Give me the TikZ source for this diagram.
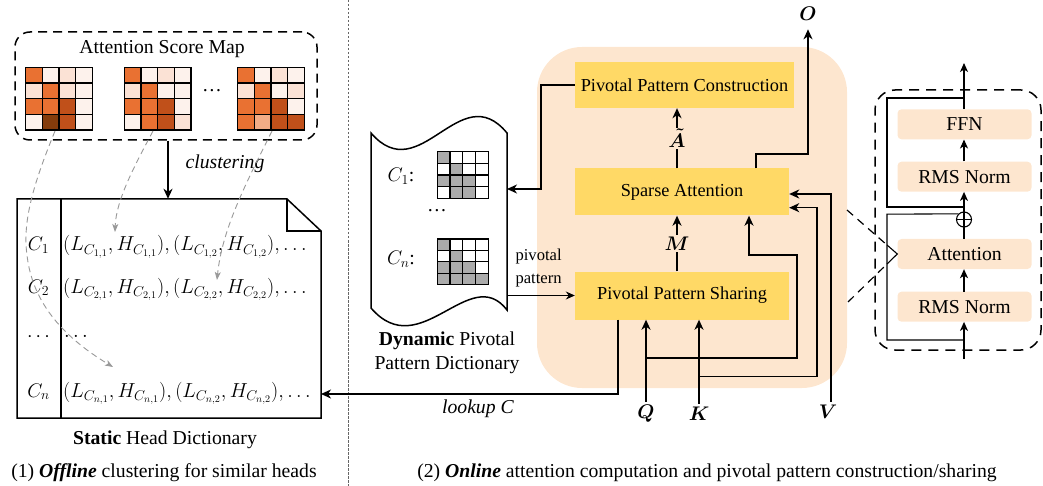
\RequirePackage{fix-cm}
\documentclass[tikz,border=0pt]{standalone}
\usepackage{bm}
\usepackage[no-math]{fontspec}
\setmainfont{Liberation Serif}
\usetikzlibrary{arrows.meta,calc}

\definecolor{peach}{HTML}{FDE6CF}
\definecolor{ygold}{HTML}{FFD966}
\definecolor{hmo}{HTML}{E97132}
\definecolor{hmd}{HTML}{C0501A}
\definecolor{hmv}{HTML}{843C0C}
\definecolor{hml}{HTML}{FBE2D5}
\definecolor{hmw}{HTML}{FDF2EC}
\definecolor{hmm}{HTML}{F2AC86}
\definecolor{gc}{HTML}{ABABAB}

\newcommand{\mainsz}{\fontsize{19.7}{23.5}\selectfont}
\newcommand{\entrysz}{\fontsize{20.3}{24}\selectfont}
\newcommand{\boxsz}{\fontsize{18.3}{22}\selectfont}
\newcommand{\smallsz}{\fontsize{16.6}{22.5}\selectfont}

% 4x4 grid of cells: x0, y0, cell width, cell height, colours row by row
\newcommand{\cellgrid}[5]{%
  \foreach \cc [count=\k from 0] in {#5} {%
    \pgfmathtruncatemacro\cx{mod(\k,4)}%
    \pgfmathtruncatemacro\cy{floor(\k/4)}%
    \filldraw[fill=\cc, draw=black, line width=1.2pt]
      ({#1+\cx*#3},{#2+\cy*#4}) rectangle ++(#3,#4);
  }%
}

\begin{document}
\begin{tikzpicture}[x=1pt,y=-1pt,font=\mainsz,
  conn/.style={line width=1.6pt,-{Stealth[length=10pt,width=9pt,inset=3pt]}},
  thinconn/.style={line width=1pt,-{Stealth[length=9pt,width=8pt,inset=3pt]}},
  tline/.style={line width=1.1pt},
  tconn/.style={line width=1.1pt,-{Stealth[length=9pt,width=8pt,inset=2.5pt]}},
  docline/.style={line width=1.5pt},
  gdash/.style={draw=black!40, line width=0.9pt, dash pattern=on 6pt off 4pt,
    -{Stealth[length=8pt,width=6pt,inset=2pt]}},
  smbox/.style={draw, line width=1.5pt, dash pattern=on 9pt off 6pt, rounded corners=15pt, inner sep=0},
  tdash/.style={draw, line width=1.5pt, dash pattern=on 10pt off 7pt, rounded corners=20pt, inner sep=0},
  zdash/.style={line width=1.2pt, dash pattern=on 8pt off 6pt},
  ybox/.style={fill=ygold, inner sep=0, font=\boxsz},
  rbox/.style={fill=peach, rounded corners=4pt, minimum width=134pt, minimum height=30pt, inner sep=0},
  lbl/.style={fill=peach, inner sep=1.5pt}]
\useasboundingbox (0,0) rectangle (1043,486);

% ---------------- offline part ----------------
\node[smbox, minimum width=302pt, minimum height=108pt] (scoremap) at (166,86) {};
\node (smtitle) at (162,49) {Attention Score Map};
\cellgrid{25.7}{67.3}{16.65}{15.7}{hmo,hmw,hml,hmw, hml,hmo,hml,hmw, hmo,hmo,hmd,hmw, hmw,hmv,hmd,hmw}
\cellgrid{124.3}{67.3}{16.65}{15.7}{hmo,hmw,hml,hmw, hml,hmo,hmw,hmw, hmo,hmo,hmd,hmw, hmw,hmo,hmd,hml}
\cellgrid{237.7}{67.3}{16.65}{15.7}{hmo,hmw,hml,hmw, hml,hmo,hmw,hml, hmo,hmo,hmd,hmw, hmo,hmm,hmd,hmd}
\node (smdots) at (212,91) {\ldots};

% static head dictionary
\node[minimum width=304pt, minimum height=219pt, inner sep=0] (shd) at (169,308.5) {};
\draw[docline, fill=white] (17,199) -- (287,199) -- (321,231) -- (321,418) -- (17,418) -- cycle;
\draw[docline] (287,199) -- (287,231) -- (321,231);
\draw[docline] (61,199) -- (61,418);
\node[anchor=base] (r1) at (38.5,251) {$C_1$};
\node[anchor=base] (r2) at (38.5,293) {$C_2$};
\node (r3) at (38.5,337) {$\cdots$};
\node[anchor=base] (r4) at (38.5,397) {$C_n$};
\begin{scope}[every node/.append style={font=\entrysz, anchor=base west, inner sep=0}]
\node (e1) at (63,251) {$(L_{C_{1,1}}, H_{C_{1,1}}), (L_{C_{1,2}}, H_{C_{1,2}}), \ldots$};
\node (e2) at (63,293) {$(L_{C_{2,1}}, H_{C_{2,1}}), (L_{C_{2,2}}, H_{C_{2,2}}), \ldots$};
\node[anchor=west] (e3) at (64,337) {$\cdots$};
\node (e4) at (63,397) {$(L_{C_{n,1}}, H_{C_{n,1}}), (L_{C_{n,2}}, H_{C_{n,2}}), \ldots$};
\end{scope}

\coordinate (cx) at (168,0);
\draw[conn] (cx |- scoremap.south) -- (cx |- shd.north);
\node (cllab) at (225,164) {\textit{clustering}};

% heads assigned to clusters
\coordinate (g1) at (55,131);
\coordinate (g2) at (153,131);
\coordinate (g3) at (272,131);
\coordinate (t1) at (113,367);
\coordinate (t2) at (115,232);
\coordinate (t3) at (217,280);
\draw[gdash] (g1) .. controls (35,180) and (22,220) .. (27,255) .. controls (32,300) and (60,335) .. (t1);
\draw[gdash] (g2) .. controls (135,165) and (116,200) .. (t2);
\draw[gdash] (g3) .. controls (245,185) and (222,230) .. (t3);

\node (cap1) at (165,440) {\textbf{Static} Head Dictionary};
\node (cap2) at (164,473) {(1) \textbf{\textit{Offline}} clustering for similar heads};

% separator
\draw[line width=1pt, black!60, dash pattern=on 2.5pt off 1.5pt] (348,0) -- (348,486);

% ---------------- online part ----------------
\node[fill=peach, rounded corners=45pt, minimum width=310pt, minimum height=341pt, inner sep=0] (bg) at (692,217.5) {};

% dynamic pivotal pattern dictionary
\node[minimum width=136pt, minimum height=177pt, inner sep=0] (dyn) at (439,221.5) {};
\draw[docline, fill=white] (371,133) .. controls (420,190) and (460,76) .. (507,133)
  -- (507,310) .. controls (470,262) and (420,365) .. (371,308) -- cycle;
\cellgrid{437.3}{151.7}{12.75}{11.7}{gc,white,white,white, white,gc,white,white, gc,gc,gc,white, white,gc,gc,white}
\cellgrid{437.3}{239}{12.75}{11.4}{gc,white,white,white, white,gc,white,white, gc,gc,gc,white, gc,gc,gc,gc}
\node (d1) at (401,176) {$C_1$:};
\node (d2) at (437,211) {\ldots};
\node (d3) at (401,259) {$C_n$:};
\node[align=center] (dcap) at (447,353) {\textbf{Dynamic} Pivotal\\Pattern Dictionary};

\node[ybox, minimum width=219pt, minimum height=46pt] (ppc) at (684.5,85) {Pivotal Pattern Construction};
\node[ybox, minimum width=214pt, minimum height=47pt] (sa) at (682,192) {Sparse Attention};
\node[ybox, minimum width=214pt, minimum height=48pt] (pps) at (682,295.5) {Pivotal Pattern Sharing};

\coordinate (ax) at (677,0);
\draw[conn] (ax |- sa.north) -- node[lbl] {$\bm{\tilde{A}}$} (ax |- ppc.south);
\draw[conn] (ax |- pps.north) -- node[lbl] {$\bm{M}$} (ax |- sa.south);

\node (olab) at (808,14) {$\bm{O}$};
\coordinate (ox) at (756,0);
\draw[conn] (ox |- sa.north) -- ++(0,-14) -| ([yshift=-5pt]olab.south);

\coordinate (dynin) at (507,189);
\draw[conn] (ppc.west) -- ++(-34,0) |- (dynin);
\coordinate (dynout) at (507,295.5);
\draw[thinconn] (dynout) -- (pps.west);
\node[font=\smallsz, align=left, anchor=west] (pplab) at (512,268) {pivotal\\pattern};

\coordinate (lx) at (618,0);
\coordinate (shdin) at (321,394);
\draw[conn] (lx |- pps.south) |- (shdin);
\node (lklab) at (478,409) {\textit{lookup C}};

\node (qlab) at (646,414) {$\bm{Q}$};
\node (klab) at (699,414) {$\bm{K}$};
\node (vlab) at (828,412) {$\bm{V}$};
\draw[conn] (qlab.north) -- (qlab.north |- pps.south);
\draw[conn] (klab.north) -- (klab.north |- pps.south);
\coordinate (qbr) at (646,358);
\coordinate (sx) at (749,0);
\draw[conn] (qbr) -| (797,255) -| (sx |- sa.south);
\coordinate (kbr) at (699,376.5);
\coordinate (kin) at ([yshift=-15.7pt]sa.east);
\draw[conn] (kbr) -| ($(kin)+(28,0)$) -- (kin);
\coordinate (vin) at ([yshift=-2pt]sa.east);
\draw[conn] ([xshift=3pt]vlab.north) |- (vin);

% ---------------- decoder layer ----------------
\node[tdash, minimum width=166pt, minimum height=260pt] (tblk) at (958,220) {};
\node[rbox] (ffn) at (964.5,124.3) {FFN};
\node[rbox] (rms2) at (964.5,176.7) {RMS Norm};
\node[rbox] (att) at (964.5,254) {Attention};
\node[rbox] (rms1) at (964.5,306.7) {RMS Norm};
\node[circle, draw, line width=1.1pt, minimum size=15pt, inner sep=0] (plus) at (964,219.5) {};
\draw[tline] (plus.north) -- (plus.south) (plus.west) -- (plus.east);

\coordinate (tin) at (964,359);
\coordinate (tout) at (964,63);
\draw[tconn] (tin) -- (tin |- rms1.south);
\draw[tconn] (tin |- rms1.north) -- (tin |- att.south);
\draw[tline] (tin |- att.north) -- (plus.south);
\draw[tconn] (plus.north) -- (tin |- rms2.south);
\draw[tconn] (tin |- rms2.north) -- (tin |- ffn.south);
\draw[tconn] (tin |- ffn.north) -- (tout);
\draw[tline] (964,340) -| (887,214.2) -- (plus.north west);
\draw[tline] (964,207) -| (887,98) -- (964,98);
\draw[tline] (887,245) -- (att.west) -- (887,264);

\draw[zdash] (847,210) -- (887,245);
\draw[zdash] (848,302) -- (887,264);

\node (cap3) at (707,473) {(2) \textbf{\textit{Online}} attention computation and pivotal pattern construction/sharing};
\end{tikzpicture}
\end{document}
